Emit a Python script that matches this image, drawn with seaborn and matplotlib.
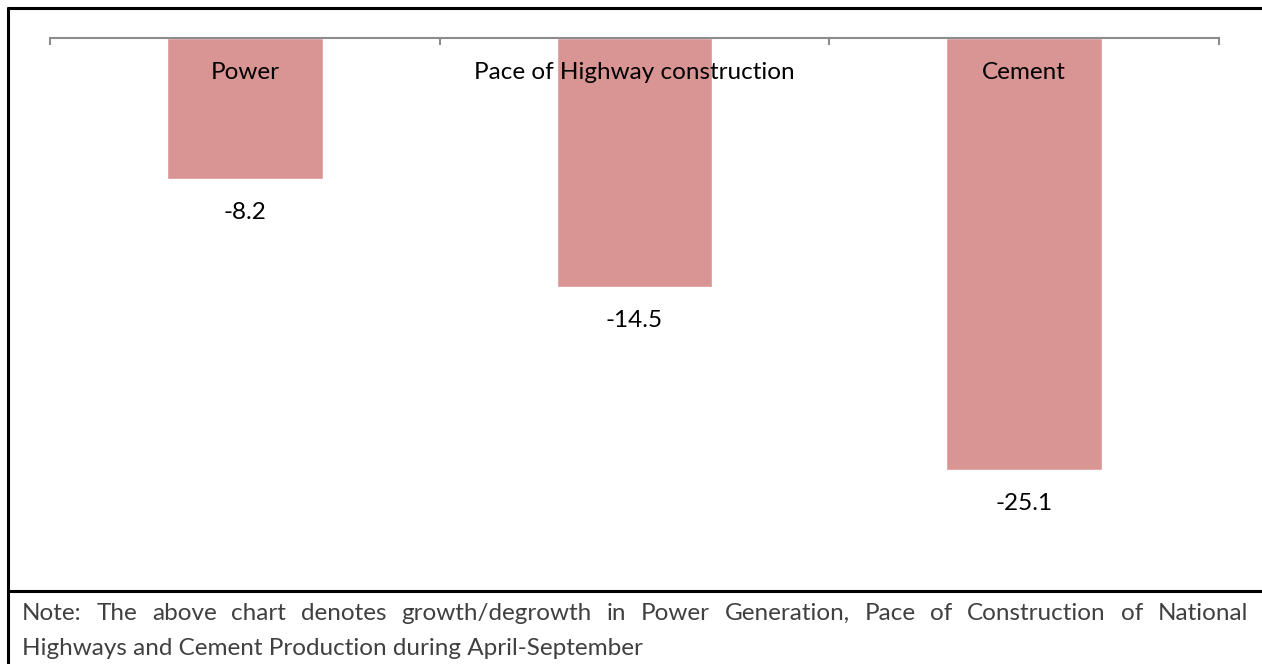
import matplotlib
matplotlib.use("Agg")
import matplotlib.pyplot as plt
import seaborn as sns
import pandas as pd
from matplotlib.lines import Line2D

# data
categories = ["Power", "Pace of Highway construction", "Cement"]
growth = [-8.2, -14.5, -25.1]
note_line1 = "Note: The above chart denotes growth/degrowth in Power Generation, Pace of Construction of National"
note_line2 = "Highways and Cement Production during April-September"

sns.set_theme(style="white")
plt.rcParams['font.family'] = ['Lato', 'DejaVu Sans']

df = pd.DataFrame({"cat": categories, "val": growth})

fig = plt.figure(figsize=(12.62, 6.64), dpi=100)
ax = fig.add_axes([50/1262, 1-554/664, (1219-50)/1262, (554-38)/664])

sns.barplot(data=df, x="cat", y="val", color="#D99594", width=0.4,
            saturation=1, ax=ax)
ax.set_xlim(-0.5, 2.5)
ax.set_ylim(-30, 0)

for s in ["left", "right", "bottom"]:
    ax.spines[s].set_visible(False)
ax.spines["top"].set_color("#8C8C8C")
ax.spines["top"].set_linewidth(1.5)
ax.set_yticks([])
ax.set_xticks([-0.5, 0.5, 1.5, 2.5])
ax.set_xticklabels([])
ax.tick_params(axis="x", bottom=False, top=True, direction="in",
               length=5, width=1.5, color="#8C8C8C")
ax.set_xlabel("")
ax.set_ylabel("")

label_fs = 17.5
# category names just under the axis
for i, c in enumerate(categories):
    ax.text(i, -2.0, c, ha="center", va="center", fontsize=label_fs, color="black")

# value labels under each bar
for i, v in enumerate(growth):
    ax.annotate(f"{v}", (i, v), xytext=(0, -24), textcoords="offset points",
                ha="center", va="center", fontsize=label_fs, color="black")

# frame lines
lw = 2.2
fig.add_artist(Line2D([7.5/1262, 1], [1-7.5/664, 1-7.5/664], color="black", lw=lw))
fig.add_artist(Line2D([7.5/1262, 7.5/1262], [0, 1-7.5/664], color="black", lw=lw))
fig.add_artist(Line2D([7.5/1262, 1], [1-591/664, 1-591/664], color="black", lw=lw))

# note text, first line justified
note_color = "#404040"
note_fs = 17.5
x0, x1 = 22, 1248
fig.canvas.draw()
r = fig.canvas.get_renderer()
words = note_line1.split(" ")
arts = []
for w in words:
    t = fig.text(0, 1-620/664, w, fontsize=note_fs, color=note_color,
                 va="baseline", ha="left")
    arts.append(t)
widths = [t.get_window_extent(r).width for t in arts]
gap = (x1 - x0 - sum(widths)) / (len(words) - 1)
xp = x0
for t, wd in zip(arts, widths):
    t.set_x(xp/1262)
    xp += wd + gap
fig.text(x0/1262, 1-655/664, note_line2, fontsize=note_fs, color=note_color,
         va="baseline", ha="left")

fig.savefig("out.png", dpi=100)
